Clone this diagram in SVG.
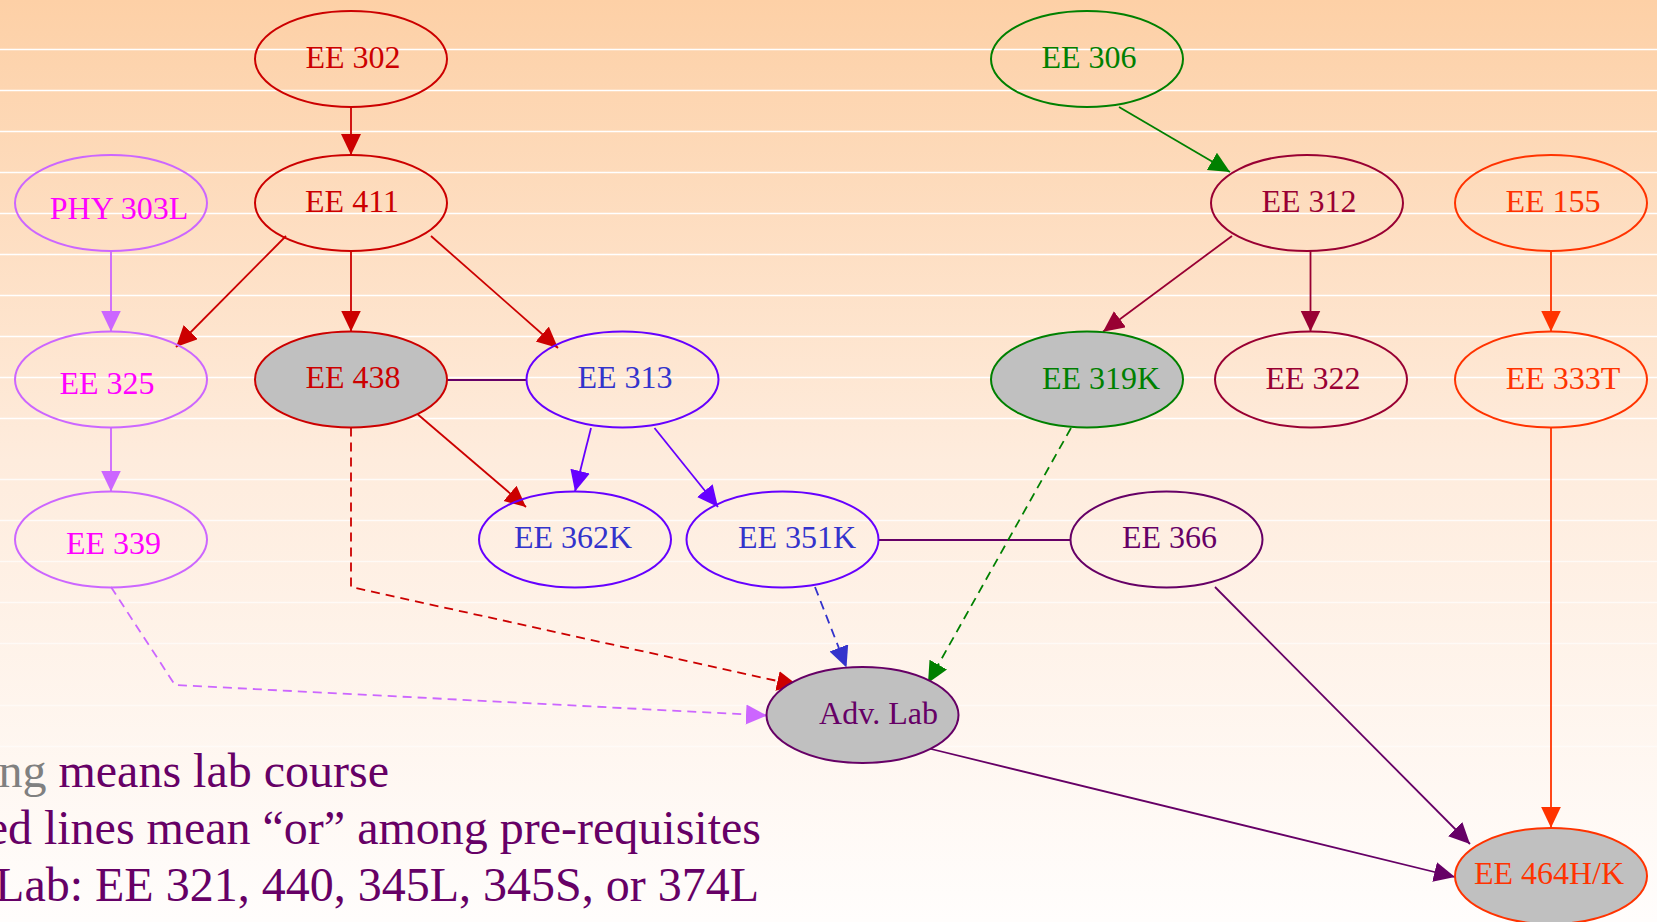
<svg xmlns="http://www.w3.org/2000/svg" width="1657" height="922" viewBox="0 0 1657 922">
<defs>
<linearGradient id="bg" x1="0" y1="0" x2="0" y2="1">
<stop offset="0" stop-color="#FDD0A6"/>
<stop offset="0.5" stop-color="#FEECDD"/>
<stop offset="1" stop-color="#FFFDFC"/>
</linearGradient>
<marker id="aRed" markerUnits="userSpaceOnUse" markerWidth="22" markerHeight="22" refX="21" refY="10" orient="auto"><path d="M0,0 L21,10 L0,20 z" fill="#CC0000"/></marker>
<marker id="aLp" markerUnits="userSpaceOnUse" markerWidth="22" markerHeight="22" refX="21" refY="10" orient="auto"><path d="M0,0 L21,10 L0,20 z" fill="#CC66FF"/></marker>
<marker id="aGreen" markerUnits="userSpaceOnUse" markerWidth="22" markerHeight="22" refX="21" refY="10" orient="auto"><path d="M0,0 L21,10 L0,20 z" fill="#008000"/></marker>
<marker id="aCrim" markerUnits="userSpaceOnUse" markerWidth="22" markerHeight="22" refX="21" refY="10" orient="auto"><path d="M0,0 L21,10 L0,20 z" fill="#990033"/></marker>
<marker id="aOr" markerUnits="userSpaceOnUse" markerWidth="22" markerHeight="22" refX="21" refY="10" orient="auto"><path d="M0,0 L21,10 L0,20 z" fill="#FF3300"/></marker>
<marker id="aVio" markerUnits="userSpaceOnUse" markerWidth="22" markerHeight="22" refX="21" refY="10" orient="auto"><path d="M0,0 L21,10 L0,20 z" fill="#6600FF"/></marker>
<marker id="aBlue" markerUnits="userSpaceOnUse" markerWidth="22" markerHeight="22" refX="21" refY="10" orient="auto"><path d="M0,0 L21,10 L0,20 z" fill="#3333CC"/></marker>
<marker id="aPur" markerUnits="userSpaceOnUse" markerWidth="22" markerHeight="22" refX="21" refY="10" orient="auto"><path d="M0,0 L21,10 L0,20 z" fill="#660066"/></marker>
</defs>
<style>
text{font-family:"Liberation Serif","Times New Roman",serif;font-size:32px;text-anchor:middle}
ellipse{stroke-width:2;fill:none}
.lab{fill:#C0C0C0}
.e{fill:none;stroke-width:1.8}
.d{stroke-dasharray:9,6}
.stripe{stroke:#FFFFFF;stroke-width:1.3}
.red{stroke:#CC0000}.lp{stroke:#CC66FF}.grn{stroke:#008000}.crim{stroke:#990033}.org{stroke:#FF3300}.vio{stroke:#6600FF}.blu{stroke:#3333CC}.pur{stroke:#660066}
.tred{fill:#CC0000}.tmag{fill:#FF00FF}.tgrn{fill:#008000}.tcrim{fill:#990033}.torg{fill:#FF3300}.tblu{fill:#3333CC}.tpur{fill:#660066}
.legend{font-size:48px;text-anchor:end;fill:#660066}
</style>
<rect x="0" y="0" width="1657" height="922" fill="url(#bg)"/>
<g id="stripes">
<line class="stripe" x1="0" y1="49.5" x2="1657" y2="49.5"/>
<line class="stripe" x1="0" y1="90.5" x2="1657" y2="90.5"/>
<line class="stripe" x1="0" y1="131.5" x2="1657" y2="131.5"/>
<line class="stripe" x1="0" y1="172.5" x2="1657" y2="172.5"/>
<line class="stripe" x1="0" y1="213.5" x2="1657" y2="213.5"/>
<line class="stripe" x1="0" y1="254.5" x2="1657" y2="254.5"/>
<line class="stripe" x1="0" y1="295.5" x2="1657" y2="295.5"/>
<line class="stripe" x1="0" y1="336.5" x2="1657" y2="336.5"/>
<line class="stripe" x1="0" y1="377.5" x2="1657" y2="377.5"/>
<line class="stripe" x1="0" y1="418.5" x2="1657" y2="418.5"/>
<line class="stripe" x1="0" y1="479.5" x2="1657" y2="479.5" opacity="0.8"/>
<line class="stripe" x1="0" y1="520.5" x2="1657" y2="520.5" opacity="0.8"/>
<line class="stripe" x1="0" y1="561.5" x2="1657" y2="561.5" opacity="0.7"/>
<line class="stripe" x1="0" y1="602.5" x2="1657" y2="602.5" opacity="0.7"/>
<line class="stripe" x1="0" y1="643.5" x2="1657" y2="643.5" opacity="0.6"/>
<line class="stripe" x1="0" y1="705.5" x2="1657" y2="705.5" opacity="0.5"/>
<line class="stripe" x1="0" y1="746.5" x2="1657" y2="746.5" opacity="0.5"/>
</g>
<g id="connectors">
<line class="e red" x1="351" y1="107" x2="351" y2="155" marker-end="url(#aRed)"/>
<line class="e grn" x1="1119" y1="107" x2="1230" y2="172" marker-end="url(#aGreen)"/>
<line class="e red" x1="286" y1="236" x2="176" y2="347" marker-end="url(#aRed)"/>
<line class="e red" x1="351" y1="251" x2="351" y2="331.5" marker-end="url(#aRed)"/>
<line class="e red" x1="431" y1="236" x2="558" y2="348" marker-end="url(#aRed)"/>
<line class="e lp" x1="111" y1="251" x2="111" y2="331.5" marker-end="url(#aLp)"/>
<line class="e lp" x1="111" y1="427.5" x2="111" y2="491.5" marker-end="url(#aLp)"/>
<line class="e pur" x1="446.6" y1="380" x2="526.7" y2="380"/>
<line class="e red" x1="415" y1="412" x2="526" y2="507" marker-end="url(#aRed)"/>
<line class="e vio" x1="591" y1="428" x2="575" y2="491.5" marker-end="url(#aVio)"/>
<line class="e vio" x1="654.5" y1="428" x2="718" y2="507" marker-end="url(#aVio)"/>
<line class="e pur" x1="878.4" y1="540" x2="1070.4" y2="540"/>
<line class="e crim" x1="1232" y1="236" x2="1103" y2="331.7" marker-end="url(#aCrim)"/>
<line class="e crim" x1="1310.5" y1="251" x2="1310.5" y2="331.5" marker-end="url(#aCrim)"/>
<line class="e org" x1="1551" y1="251" x2="1551" y2="331.5" marker-end="url(#aOr)"/>
<line class="e grn d" x1="1071" y1="428" x2="928" y2="683" marker-end="url(#aGreen)"/>
<polyline class="e red d" points="351,427.5 351,587 798,685.5" marker-end="url(#aRed)"/>
<polyline class="e lp d" points="111,587 175,685 767,715.5" marker-end="url(#aLp)"/>
<line class="e blu d" x1="815" y1="587" x2="846.5" y2="667.5" marker-end="url(#aBlue)"/>
<line class="e pur" x1="1215" y1="587" x2="1470" y2="844" marker-end="url(#aPur)"/>
<line class="e pur" x1="927" y1="748" x2="1455" y2="877" marker-end="url(#aPur)"/>
<line class="e org" x1="1551" y1="427.5" x2="1551" y2="827.7" marker-end="url(#aOr)"/>
</g>
<g id="n-ee302"><ellipse class="red" cx="351" cy="59" rx="96" ry="48"/><text class="tred" x="353" y="68">EE 302</text></g>
<g id="n-ee411"><ellipse class="red" cx="351" cy="203" rx="96" ry="48"/><text class="tred" x="352" y="212">EE 411</text></g>
<g id="n-phy303l"><ellipse class="lp" cx="111" cy="203" rx="96" ry="48"/><text class="tmag" x="119" y="219">PHY 303L</text></g>
<g id="n-ee306"><ellipse class="grn" cx="1087" cy="59" rx="96" ry="48"/><text class="tgrn" x="1089" y="68">EE 306</text></g>
<g id="n-ee312"><ellipse class="crim" cx="1307" cy="203" rx="96" ry="48"/><text class="tcrim" x="1309" y="212">EE 312</text></g>
<g id="n-ee155"><ellipse class="org" cx="1551" cy="203" rx="96" ry="48"/><text class="torg" x="1553" y="212">EE 155</text></g>
<g id="n-ee325"><ellipse class="lp" cx="111" cy="379.5" rx="96" ry="48"/><text class="tmag" x="107" y="394">EE 325</text></g>
<g id="n-ee438"><ellipse class="red lab" cx="351" cy="379.5" rx="96" ry="48"/><text class="tred" x="353" y="388">EE 438</text></g>
<g id="n-ee313"><ellipse class="vio" cx="622.5" cy="379.5" rx="96" ry="48"/><text class="tblu" x="625" y="388">EE 313</text></g>
<g id="n-ee319k"><ellipse class="grn lab" cx="1087" cy="379.5" rx="96" ry="48"/><text class="tgrn" x="1101" y="389">EE 319K</text></g>
<g id="n-ee322"><ellipse class="crim" cx="1311" cy="379.5" rx="96" ry="48"/><text class="tcrim" x="1313" y="389">EE 322</text></g>
<g id="n-ee333t"><ellipse class="org" cx="1551" cy="379.5" rx="96" ry="48"/><text class="torg" x="1563" y="389">EE 333T</text></g>
<g id="n-ee339"><ellipse class="lp" cx="111" cy="539.5" rx="96" ry="48"/><text class="tmag" x="113.5" y="554">EE 339</text></g>
<g id="n-ee362k"><ellipse class="vio" cx="575" cy="539.5" rx="96" ry="48"/><text class="tblu" x="573" y="548">EE 362K</text></g>
<g id="n-ee351k"><ellipse class="vio" cx="782.5" cy="539.5" rx="96" ry="48"/><text class="tblu" x="797" y="548">EE 351K</text></g>
<g id="n-ee366"><ellipse class="pur" cx="1166.5" cy="539.5" rx="96" ry="48"/><text class="tpur" x="1169.5" y="548">EE 366</text></g>
<g id="n-advlab"><ellipse class="pur lab" cx="862.5" cy="715" rx="96" ry="48"/><text class="tpur" x="878.5" y="724">Adv. Lab</text></g>
<g id="n-ee464hk"><ellipse class="org lab" cx="1551" cy="876" rx="96" ry="48"/><text class="torg" x="1549" y="884">EE 464H/K</text></g>
<g id="legend">
<text class="legend" x="389" y="787"><tspan fill="#808080">ng</tspan> means lab course</text>
<text class="legend" x="761" y="844">ed lines mean “or” among pre-requisites</text>
<text class="legend" x="759" y="901">Lab: EE 321, 440, 345L, 345S, or 374L</text>
</g>
</svg>
